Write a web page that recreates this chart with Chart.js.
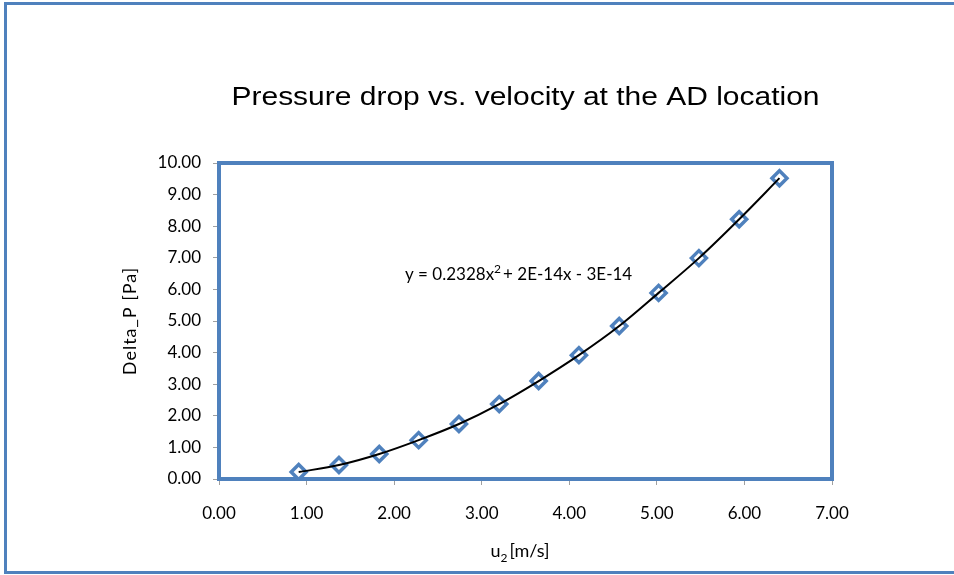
<!DOCTYPE html>
<html>
<head>
<meta charset="utf-8">
<script src="https://cdn.jsdelivr.net/npm/chart.js@4.4.0/dist/chart.umd.min.js"></script>
<style>
  html, body { margin: 0; padding: 0; background: #fff; overflow: hidden; }
  #frame { position: absolute; left: 4px; top: 2px; width: 980px; height: 572px; border: 3px solid #4f81bd; box-sizing: border-box; }
  #wrap { position: absolute; left: 0; top: 0; width: 954px; height: 575px; }
</style>
</head>
<body>
<div id="frame"></div>
<div id="wrap"><canvas id="chart" width="954" height="575"></canvas></div>
<script>
// velocity u2 [m/s] and pressure drop [Pa]
var velocity = [0.91, 1.37, 1.83, 2.28, 2.74, 3.20, 3.65, 4.11, 4.57, 5.02, 5.48, 5.94, 6.40];
var deltaP = [0.22, 0.44, 0.79, 1.23, 1.74, 2.37, 3.10, 3.92, 4.84, 5.89, 6.99, 8.22, 9.52];

var chartTitle = 'Pressure drop vs. velocity at the AD location';
var yTitle = 'Delta_P [Pa]';

var blue = '#4f81bd';
var tickFont = { family: 'Lato', size: 17 };

function toPoints(xs, ys) {
    var pts = [];
    for (var i = 0; i < xs.length; i++) {
        pts.push({ x: xs[i], y: ys[i] });
    }
    return pts;
}

// title, axis titles, plot frame and trendline equation
var decorations = {
    id: 'decorations',
    beforeDatasetsDraw: function(chart) {
        var ctx = chart.ctx;
        var a = chart.chartArea;
        ctx.save();
        ctx.strokeStyle = blue;
        ctx.lineWidth = 4;
        ctx.strokeRect(a.left, a.top, a.right - a.left, a.bottom - a.top);
        ctx.restore();
    },
    afterDraw: function(chart) {
        var ctx = chart.ctx;
        var a = chart.chartArea;
        var cx = (a.left + a.right) / 2;
        ctx.save();
        ctx.fillStyle = '#000';

        // main title, stretched a little wider like the original
        ctx.font = '25px "Liberation Sans"';
        ctx.textAlign = 'center';
        ctx.textBaseline = 'middle';
        var w = ctx.measureText(chartTitle).width;
        ctx.save();
        ctx.translate(cx, 98);
        ctx.scale(588 / w, 1);
        ctx.fillText(chartTitle, 0, 0);
        ctx.restore();

        // y axis title
        ctx.save();
        ctx.translate(130, (a.top + a.bottom) / 2);
        ctx.rotate(-Math.PI / 2);
        ctx.font = '18px Lato';
        ctx.letterSpacing = '1px';
        ctx.fillText(yTitle, 0, 0);
        ctx.restore();

        // x axis title with subscript
        ctx.textAlign = 'left';
        ctx.textBaseline = 'alphabetic';
        ctx.font = '18px Lato';
        var wu = ctx.measureText('u').width;
        var wr = ctx.measureText('[m/s]').width;
        ctx.font = '12px Lato';
        var w2 = ctx.measureText('2').width;
        var x = 520 - (wu + w2 + 2 + wr) / 2;
        ctx.font = '18px Lato';
        ctx.fillText('u', x, 557);
        ctx.font = '12px Lato';
        ctx.fillText('2', x + wu, 562);
        ctx.font = '18px Lato';
        ctx.fillText('[m/s]', x + wu + w2 + 2, 557);

        // equation label
        ctx.textBaseline = 'middle';
        ctx.font = '17px Lato';
        x = 405;
        var y = 275;
        var part1 = 'y = 0.2328x';
        ctx.fillText(part1, x, y);
        x += ctx.measureText(part1).width;
        ctx.font = '12px Lato';
        ctx.fillText('2', x, y - 6);
        x += ctx.measureText('2').width + 2;
        ctx.font = '17px Lato';
        ctx.fillText('+ 2E-14x - 3E-14', x, y);
        ctx.restore();
    }
};

var ctx = document.getElementById('chart').getContext('2d');
var chart = new Chart(ctx, {
    type: 'scatter',
    data: {
        datasets: [
            {
                label: 'Trend',
                data: toPoints(velocity, deltaP),
                showLine: true,
                borderColor: '#000',
                borderWidth: 2,
                pointRadius: 0,
                cubicInterpolationMode: 'monotone',
                fill: false,
                order: 0
            },
            {
                label: 'Delta_P',
                data: toPoints(velocity, deltaP),
                showLine: false,
                pointStyle: 'rectRot',
                pointRadius: 7.5,
                pointBorderWidth: 3.5,
                pointBorderColor: blue,
                pointBackgroundColor: 'rgba(255,255,255,0)',
                order: 1
            }
        ]
    },
    options: {
        responsive: false,
        animation: false,
        events: [],
        layout: {
            padding: { left: 0, top: 163, right: 122, bottom: 0 }
        },
        plugins: {
            legend: { display: false },
            tooltip: { enabled: false },
            title: { display: false }
        },
        scales: {
            x: {
                type: 'linear',
                min: 0,
                max: 7,
                afterFit: function(s) { s.height = 96; },
                border: { display: false },
                grid: {
                    drawOnChartArea: false,
                    drawTicks: true,
                    tickLength: 6,
                    color: '#a0a0a0',
                    lineWidth: 1
                },
                ticks: {
                    stepSize: 1,
                    color: '#000',
                    font: tickFont,
                    padding: 18,
                    callback: function(v) { return v.toFixed(2); }
                }
            },
            y: {
                type: 'linear',
                min: 0,
                max: 10,
                afterFit: function(s) { s.width = 219; },
                border: { display: false },
                grid: {
                    drawOnChartArea: false,
                    drawTicks: true,
                    tickLength: 6,
                    color: '#a0a0a0',
                    lineWidth: 1
                },
                ticks: {
                    stepSize: 1,
                    color: '#000',
                    font: tickFont,
                    padding: 12,
                    callback: function(v) { return v.toFixed(2); }
                }
            }
        }
    },
    plugins: [decorations]
});
</script>
</body>
</html>
